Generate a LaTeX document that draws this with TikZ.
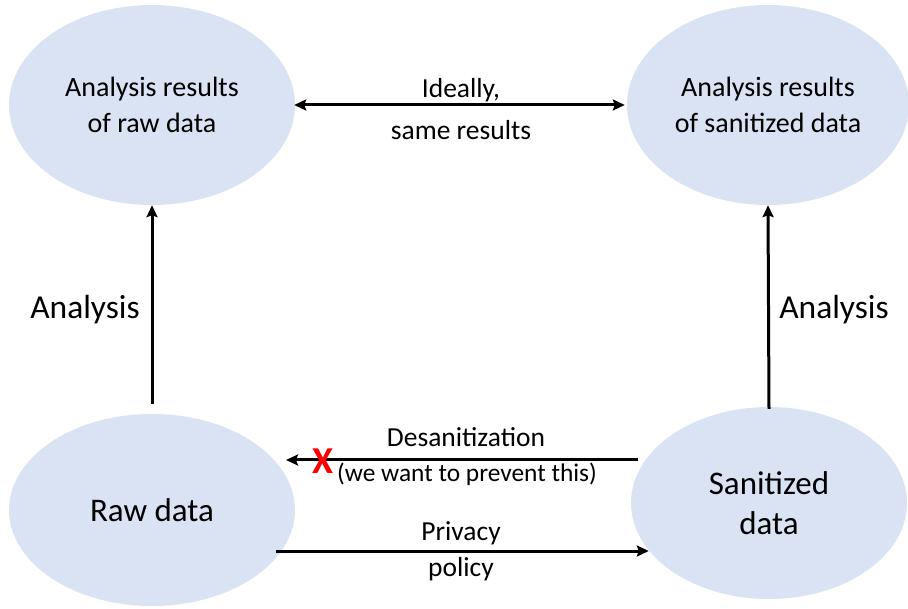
\documentclass[tikz,border=0pt]{standalone}
\usepackage{fontspec}
\setmainfont{Carlito}
\usetikzlibrary{shapes.geometric,arrows.meta}
\definecolor{blobfill}{HTML}{DAE3F3}
\definecolor{xred}{HTML}{FF0000}
\tikzset{
  blob/.style={ellipse, fill=blobfill, inner sep=0pt, align=center},
  arr/.style={line width=3pt, -{Stealth[length=12pt,width=11pt,inset=2pt]}},
  darr/.style={line width=3pt, {Stealth[length=12pt,width=11pt,inset=2pt]}-{Stealth[length=12pt,width=11pt,inset=2pt]}},
  lbl/.style={inner sep=0pt, font=\fontsize{27.5}{32}\selectfont, align=center},
  smalllbl/.style={inner sep=0pt, font=\fontsize{25.4}{30}\selectfont, align=center},
  biglbl/.style={inner sep=0pt, font=\fontsize{33.5}{40}\selectfont, align=center}
}
\begin{document}
\begin{tikzpicture}[x=1pt,y=-1pt]
\useasboundingbox (0,0) rectangle (908,609);
\node[blob, minimum width=286pt, minimum height=200pt, font=\fontsize{28}{36}\selectfont] (arr) at (152,105) {Analysis results\\of raw data};
\node[blob, minimum width=282pt, minimum height=200pt, font=\fontsize{28}{36}\selectfont] (asd) at (768,105) {Analysis results\\of sanitized data};
\node[blob, minimum width=286pt, minimum height=192pt, font=\fontsize{33}{40}\selectfont] (rd) at (152,510) {Raw data};
\node[blob, minimum width=276pt, minimum height=192pt, font=\fontsize{33}{40}\selectfont] (sd) at (769,503) {Sanitized\\data};

\draw[darr] ([xshift=-1pt]arr.east) -- ([xshift=-2pt]asd.west);
\node[lbl] (ideal) at (461,90) {Ideally,};
\node[lbl] (same) at (461,130) {same results};

\draw[arr] ([yshift=10pt]rd.north) -- (arr.south);
\draw[arr] ([yshift=-2pt]sd.north) -- (asd.south);
\node[biglbl] (la) at (85,310) {Analysis};
\node[biglbl] (ra) at (834,310) {Analysis};

\coordinate (desS) at (638,460);
\coordinate (desE) at (286,460);
\draw[arr] (desS) -- (desE);
\node[lbl] (des) at (466,437) {Desanitization};
\node[smalllbl] (prev) at (467,474) {(we want to prevent this)};
\node[inner sep=0pt, text=xred, font=\fontsize{38}{38}\selectfont\bfseries] (x) at (323,461) {X};

\coordinate (ppS) at (276,551);
\draw[arr] (ppS) -- ([xshift=18pt,yshift=-48pt]sd.west);
\node[lbl] (priv) at (461,533) {Privacy};
\node[lbl] (pol) at (461,569) {policy};
\end{tikzpicture}
\end{document}
